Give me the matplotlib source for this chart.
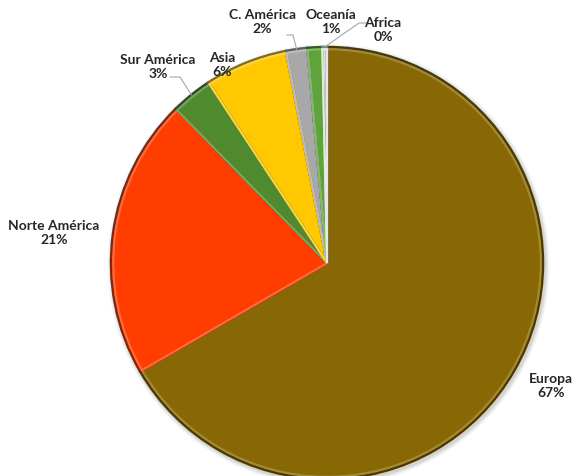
import matplotlib
matplotlib.use("Agg")
import matplotlib.pyplot as plt
import matplotlib.patches as mpatches
import numpy as np
from matplotlib.colors import to_rgb

categories = ["Europa", "Norte América", "Sur América", "Asia", "C. América", "Oceanía", "Africa"]
values = [66.65, 21.0, 3.1, 6.2, 1.6, 1.1, 0.35]
pct_labels = ["67%", "21%", "3%", "6%", "2%", "1%", "0%"]
colors = ["#876804", "#FF3D00", "#4F8A2E", "#FFC800", "#A8A8A8", "#5DA53A", "#E0E0E0"]

W, H = 572, 477
fig = plt.figure(figsize=(W / 100, H / 100), dpi=100)
ax = fig.add_axes([0, 0, 1, 1])

cx, cy, R = 327, 213, 216

def lighten(c, f):
    r = np.array(to_rgb(c))
    return tuple(r + (1 - r) * f)

def darken(c, f):
    r = np.array(to_rgb(c))
    return tuple(r * (1 - f))

# soft shadow
for dr, a in [(5, 0.04), (3.5, 0.06), (2, 0.08)]:
    ax.add_patch(plt.Circle((cx + 1.5, cy - 2), R + dr, color="black", alpha=a, lw=0))

wedges, _ = ax.pie(values, colors=colors, startangle=90, counterclock=False,
                   center=(cx, cy), radius=R, frame=True,
                   wedgeprops=dict(linewidth=0))
ax.set_xlim(0, W)
ax.set_ylim(0, H)
ax.set_aspect("equal")
ax.axis("off")

for w, c in zip(wedges, colors):
    w.set_edgecolor(darken(c, 0.45))
    w.set_linewidth(1.8)
    inner = mpatches.Wedge((cx, cy), R - 2.2, w.theta1, w.theta2,
                           facecolor="none", edgecolor=lighten(c, 0.22), lw=1.6)
    ax.add_patch(inner)

# label positions (pixel coords from top)
label_pos = {
    "Europa": (551, 386),
    "Norte América": (54, 233),
    "Sur América": (158, 67),
    "Asia": (222, 65),
    "C. América": (262, 22),
    "Oceanía": (331, 22),
    "Africa": (383, 30),
}
for cat, pct in zip(categories, pct_labels):
    x, y = label_pos[cat]
    ax.text(x, H - y, f"{cat}\n{pct}", ha="center", va="center", fontsize=10,
            fontweight="bold", family=["Lato", "DejaVu Sans"], color="#262626",
            linespacing=1.2)

# leader lines
def edge_point(w):
    th = np.deg2rad((w.theta1 + w.theta2) / 2)
    return cx + R * np.cos(th), cy + R * np.sin(th)

lc = "#A6A6A6"
ex, ey = edge_point(wedges[2])
ax.plot([170, 180, ex], [H - 78, H - 78, ey], color=lc, lw=0.8)
ex, ey = edge_point(wedges[4])
ax.plot([287, 293, ex], [H - 36, H - 36, ey], color=lc, lw=0.8)
ex, ey = edge_point(wedges[6])
ax.plot([366, 359, ex], [H - 24, H - 24, ey], color=lc, lw=0.8)

fig.savefig("out.png", dpi=100, facecolor="white")
